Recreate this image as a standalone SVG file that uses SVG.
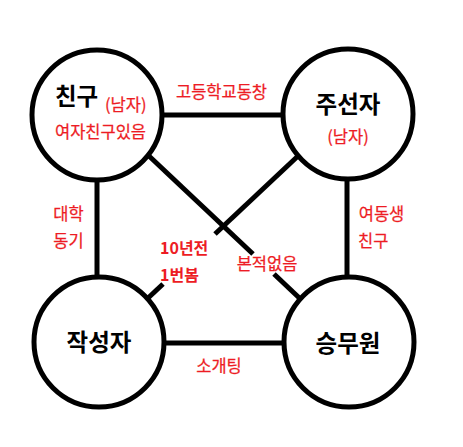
<svg xmlns="http://www.w3.org/2000/svg" width="463" height="447" viewBox="0 0 463 447">
<style>
.node{fill:#fff;stroke:#000;stroke-width:5}
.ln{stroke:#000;stroke-width:5;fill:none}
.t{font-family:"Noto Sans CJK KR","Noto Sans",sans-serif}
.title{font-size:23.5px;font-weight:bold;fill:#000}
.red{font-size:16.5px;fill:#ED1C24;stroke:#ED1C24;stroke-width:0.25}
.redb{font-size:16px;fill:#ED1C24;font-weight:bold}
</style>
<rect width="463" height="447" fill="#fff"/>
<g id="connectors">
<line class="ln" x1="97" y1="115" x2="348" y2="115"/>
<line class="ln" x1="99" y1="343" x2="349" y2="343"/>
<line class="ln" x1="97" y1="115" x2="97" y2="342"/>
<line class="ln" x1="347" y1="114" x2="347" y2="342"/>
<line class="ln" x1="97" y1="107" x2="253" y2="254"/>
<line class="ln" x1="274" y1="274" x2="349" y2="345"/>
<line class="ln" x1="348" y1="109" x2="215" y2="234"/>
<line class="ln" x1="163" y1="284" x2="99" y2="344"/>
</g>
<g id="node-friend">
<circle class="node" cx="97" cy="115" r="65"/>
<text class="t title" x="55" y="105">친구</text>
<text class="t red" x="105" y="111">(남자)</text>
<text class="t red" x="100.5" y="138" text-anchor="middle">여자친구있음</text>
</g>
<g id="node-matchmaker">
<circle class="node" cx="348" cy="114" r="65"/>
<text class="t title" x="348" y="113" text-anchor="middle">주선자</text>
<text class="t red" x="348" y="143" text-anchor="middle">(남자)</text>
</g>
<g id="node-author">
<circle class="node" cx="99" cy="342" r="65"/>
<text class="t title" x="99" y="351" text-anchor="middle">작성자</text>
</g>
<g id="node-attendant">
<circle class="node" cx="349" cy="342" r="65"/>
<text class="t title" x="348" y="352" text-anchor="middle">승무원</text>
</g>
<g id="labels">
<text class="t red" x="221.5" y="98" text-anchor="middle">고등학교동창</text>
<text class="t red" x="68.5" y="220" text-anchor="middle">대학</text>
<text class="t red" x="68.5" y="247" text-anchor="middle">동기</text>
<text class="t red" x="381.5" y="220" text-anchor="middle">여동생</text>
<text class="t red" x="358" y="247">친구</text>
<text class="t redb" x="160" y="254">10년전</text>
<text class="t redb" x="160" y="281">1번봄</text>
<text class="t red" x="267" y="270" text-anchor="middle">본적없음</text>
<text class="t red" x="219" y="372" text-anchor="middle">소개팅</text>
</g>
</svg>
